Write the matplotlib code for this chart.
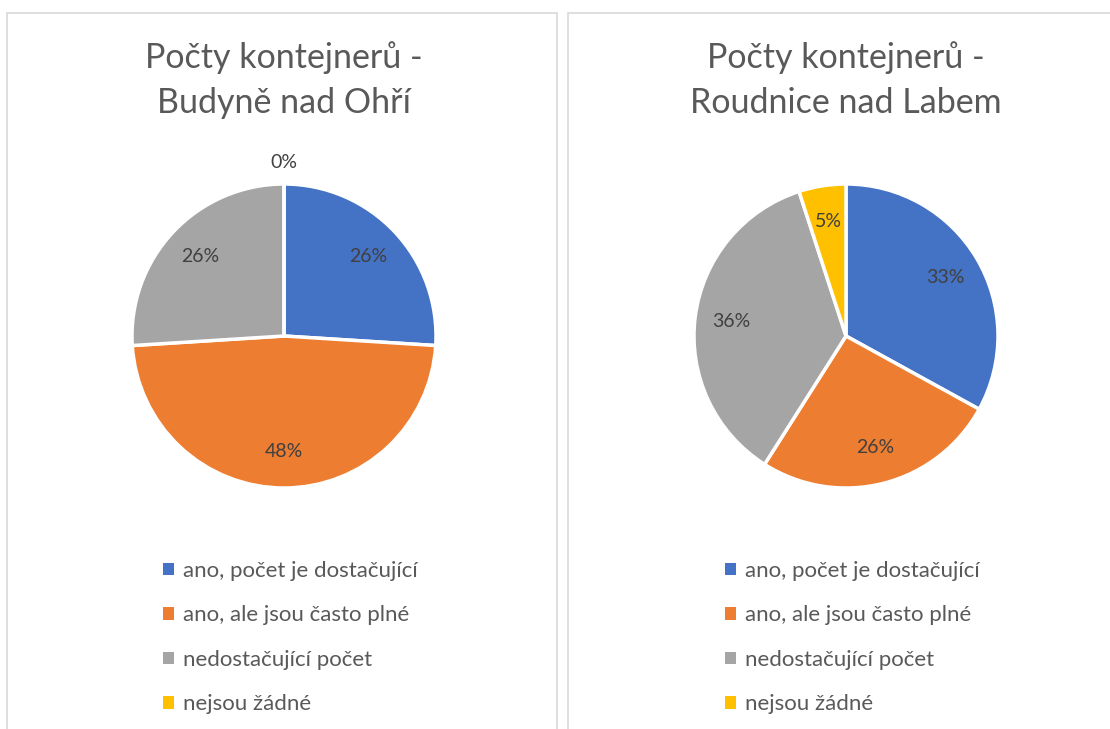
import matplotlib
matplotlib.use("Agg")
import matplotlib.pyplot as plt
from matplotlib.patches import Rectangle
import numpy as np

plt.rcParams['font.family'] = ['Lato', 'DejaVu Sans']

# data
categories = ["ano, počet je dostačující",
              "ano, ale jsou často plné",
              "nedostačující počet",
              "nejsou žádné"]
colors = ["#4472C4", "#ED7D31", "#A5A5A5", "#FFC000"]

titles = ["Počty kontejnerů -\nBudyně nad Ohří",
          "Počty kontejnerů -\nRoudnice nad Labem"]
budyne = [26, 48, 26, 0]
roudnice = [33, 26, 36, 5]

W, H = 1110, 729
fig = plt.figure(figsize=(W / 100, H / 100), dpi=100)

def px_box(cx, cy, r):
    return [(cx - r) / W, (H - cy - r) / H, 2 * r / W, 2 * r / H]

# panel borders
for x0, x1 in [(7, 557), (568, 1118)]:
    fig.patches.append(Rectangle((x0 / W, -0.05), (x1 - x0) / W, (H - 13) / H + 0.05,
                                 transform=fig.transFigure, fill=False,
                                 edgecolor="#D9D9D9", linewidth=1.2))

def draw_pie(cx, values, title, leg_x):
    ax = fig.add_axes(px_box(cx, 336, 152))
    wedges, _ = ax.pie(values, colors=colors, startangle=90, counterclock=False,
                       wedgeprops=dict(edgecolor="white", linewidth=2.5))
    ax.set_xlim(-1, 1)
    ax.set_ylim(-1, 1)
    # percentage labels
    for w, v in zip(wedges, values):
        ang = np.deg2rad((w.theta1 + w.theta2) / 2)
        r = 0.76 if v > 0 else 1.14
        ax.text(r * np.cos(ang), r * np.sin(ang), f"{v}%", ha="center", va="center",
                fontsize=14, color="#404040")
    fig.text(cx / W, 1 - 80 / H, title, ha="center", va="center",
             fontsize=24.5, color="#595959", linespacing=1.5)
    handles = [Rectangle((0, 0), 1, 1, facecolor=c) for c in colors]
    fig.legend(handles, categories, loc="upper left",
               bbox_to_anchor=(leg_x / W, 1 - 561 / H), frameon=False,
               fontsize=16, labelcolor="#595959", handlelength=0.5, handleheight=0.5,
               handletextpad=0.4, labelspacing=1.1, borderaxespad=0, borderpad=0)

draw_pie(284, budyne, titles[0], 163)
draw_pie(846, roudnice, titles[1], 725)

fig.savefig("out.png", dpi=100, facecolor="white")
